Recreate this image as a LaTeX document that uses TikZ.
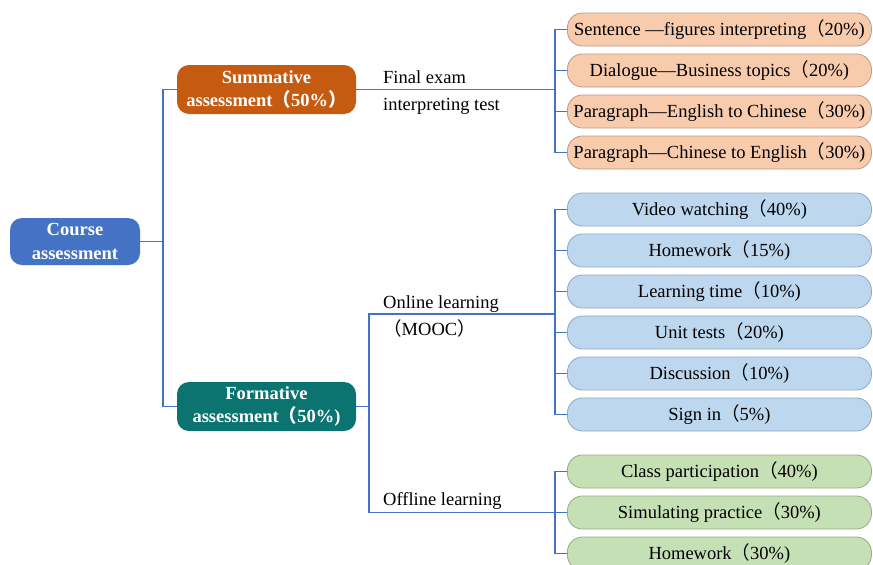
\documentclass[tikz,border=0pt]{standalone}
\usepackage{fontspec}
\setmainfont{Liberation Serif}
\newfontfamily\cjk{Noto Sans CJK SC}
\usetikzlibrary{positioning}

% full-width brackets
\newcommand{\zlp}{{\cjk （}}
\newcommand{\zrp}{{\cjk ）}}

\definecolor{linkblue}{HTML}{4472C4}
\definecolor{courseblue}{HTML}{4472C4}
\definecolor{summorange}{HTML}{C55A11}
\definecolor{formteal}{HTML}{0B7470}
\definecolor{peachfill}{HTML}{F8CBAD}
\definecolor{peachline}{HTML}{BF9A82}
\definecolor{skyfill}{HTML}{BDD7EE}
\definecolor{skyline}{HTML}{8EA8C6}
\definecolor{sagefill}{HTML}{C5E0B4}
\definecolor{sageline}{HTML}{93AD85}

\begin{document}
\begin{tikzpicture}[x=1pt,y=-1pt,
		link/.style={draw=linkblue, line width=1.3pt},
		headbox/.style={rounded corners=12pt, text=white, align=center,
			font=\fontsize{18.5}{23.5}\selectfont\bfseries, inner sep=0pt},
		leafbox/.style={rounded corners=15pt, minimum width=304pt, minimum height=33pt,
			anchor=west, inner sep=0pt, line width=0.8pt,
			font=\fontsize{18.5}{22}\selectfont},
		peach/.style={leafbox, fill=peachfill, draw=peachline},
		sky/.style={leafbox, fill=skyfill, draw=skyline},
		sage/.style={leafbox, fill=sagefill, draw=sageline},
		branch/.style={anchor=west, align=left, inner sep=0pt,
			font=\fontsize{18.5}{27}\selectfont}
	]
	\useasboundingbox[fill=white] (0,0) rectangle (873,565);

	% main boxes
	\node[headbox, fill=courseblue, minimum width=130pt, minimum height=47pt] (course) at (75,241.5) {Course\\assessment};
	\node[headbox, fill=summorange, minimum width=179pt, minimum height=49pt] (summ) at (266.5,89.5) {Summative\\assessment\zlp 50\%\zrp};
	\node[headbox, fill=formteal, minimum width=179pt, minimum height=49pt] (form) at (266.5,406.5) {Formative\\assessment\zlp 50\%)};

	% branch labels
	\node[branch] (exam) at (383,93) {Final exam\\interpreting test};
	\node[branch] (online) at (383,316) {Online learning\\\zlp MOOC\zrp};
	\node[branch] (offline) at (383,501) {Offline learning};

	% final exam parts
	\node[peach] (s1) at (567,29.5) {Sentence —figures interpreting\zlp 20\%)};
	\node[peach] (s2) at (567,70.5) {Dialogue—Business topics\zlp 20\%)};
	\node[peach] (s3) at (567,111.5) {Paragraph—English to Chinese\zlp 30\%)};
	\node[peach] (s4) at (567,152.5) {Paragraph—Chinese to English\zlp 30\%)};

	% online parts
	\node[sky] (on1) at (567,209.5) {Video watching\zlp 40\%)};
	\node[sky] (on2) at (567,250.5) {Homework\zlp 15\%)};
	\node[sky] (on3) at (567,291.5) {Learning time\zlp 10\%)};
	\node[sky] (on4) at (567,332.5) {Unit tests\zlp 20\%)};
	\node[sky] (on5) at (567,373.5) {Discussion\zlp 10\%)};
	\node[sky] (on6) at (567,414.5) {Sign in\zlp 5\%)};

	% offline parts
	\node[sage] (off1) at (567,471.5) {Class participation\zlp 40\%)};
	\node[sage] (off2) at (567,512.5) {Simulating practice\zlp 30\%)};
	\node[sage] (off3) at (567,553.5) {Homework\zlp 30\%)};

	% junctions
	\coordinate (jc) at (163,241.5);
	\coordinate (jf) at (369,406.5);
	\coordinate (je) at (555,89.5);
	\coordinate (jon) at (555,314);
	\coordinate (joff) at (555,512.5);

	\draw[link] (course.east) -- (jc);
	\draw[link] (jc) |- (summ.west);
	\draw[link] (jc) |- (form.west);

	\draw[link] (summ.east) -- (je);
	\foreach \n in {s1,s2,s3,s4}
		\draw[link] (je) |- (\n.west);

	\draw[link] (form.east) -- (jf);
	\draw[link] (jf) |- (jon);
	\draw[link] (jf) |- (joff);
	\foreach \n in {on1,on2,on3,on4,on5,on6}
		\draw[link] (jon) |- (\n.west);
	\foreach \n in {off1,off2,off3}
		\draw[link] (joff) |- (\n.west);
\end{tikzpicture}
\end{document}
